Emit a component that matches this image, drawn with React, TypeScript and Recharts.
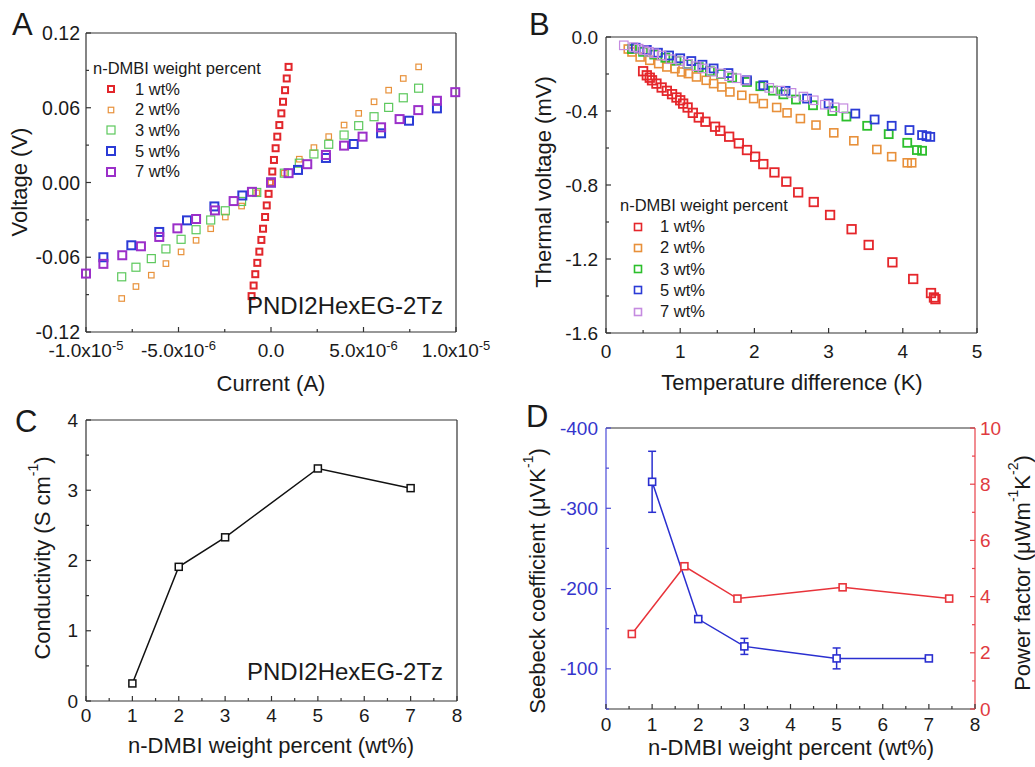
import React from 'react';
import { ScatterChart, Scatter, XAxis, YAxis, ReferenceLine, ErrorBar, Legend } from 'recharts';

const FONT = '"Liberation Sans", Arial, Helvetica, sans-serif';
const AXIS = '#333';
const TXT = '#1a1a1a';

// ---------------- Panel A : I-V curves (current in µA, voltage in V)
const ivNames = ['1 wt%', '2 wt%', '3 wt%', '5 wt%', '7 wt%'];
const ivI_1 = [-1.05, -0.94, -0.85, -0.74, -0.63, -0.52, -0.43, -0.32, -0.23, -0.13, -0.04, 0.07, 0.16, 0.25, 0.34, 0.45, 0.56, 0.65, 0.76, 0.85, 0.95];
const ivV_1 = [-0.0912, -0.0827, -0.0736, -0.0645, -0.0555, -0.0461, -0.0371, -0.0277, -0.0184, -0.0091, 0, 0.0088, 0.0181, 0.0275, 0.0368, 0.0461, 0.0555, 0.0648, 0.0741, 0.0835, 0.0928];
const ivI_2 = [-8.07, -7.3, -6.47, -5.68, -4.86, -4.05, -3.26, -2.47, -1.59, -0.77, 0, 0.72, 1.53, 2.32, 3.12, 3.95, 4.74, 5.57, 6.36, 7.15, 7.98];
const ivV_2 = [-0.0931, -0.0835, -0.0744, -0.0651, -0.0557, -0.0464, -0.0371, -0.0277, -0.0189, -0.0083, 0, 0.0075, 0.0187, 0.028, 0.0368, 0.0461, 0.0555, 0.0648, 0.0741, 0.0835, 0.0928];
const ivI_3 = [-8.07, -7.3, -6.47, -5.68, -4.86, -4.05, -3.26, -2.47, -1.59, -0.77, 0.72, 1.53, 2.32, 3.12, 3.95, 4.74, 5.57, 6.36, 7.15, 7.98];
const ivV_3 = [-0.0757, -0.068, -0.0611, -0.0533, -0.0456, -0.0379, -0.0301, -0.0227, -0.0152, -0.008, 0.0075, 0.0155, 0.0229, 0.0307, 0.0381, 0.0456, 0.0528, 0.0603, 0.068, 0.0757];
const ivI_5 = [-9.06, -7.55, -6.04, -4.54, -3.06, -1.55, 0, 1.46, 2.97, 4.47, 5.95, 7.46, 8.97];
const ivV_5 = [-0.06, -0.0504, -0.0397, -0.0304, -0.0192, -0.0104, 0, 0.0101, 0.0197, 0.0309, 0.0395, 0.0496, 0.0595];
const ivI_7 = [-10.0, -9.06, -8.04, -7.03, -6.04, -5.06, -4.05, -3.03, -2.02, -1.03, 0, 0.95, 1.96, 2.97, 3.95, 4.95, 5.95, 6.95, 7.96, 8.97, 9.96];
const ivV_7 = [-0.0731, -0.0653, -0.0584, -0.0512, -0.0437, -0.0368, -0.0293, -0.0224, -0.0149, -0.0075, 0, 0.0075, 0.0147, 0.0221, 0.0296, 0.0368, 0.0443, 0.0509, 0.0581, 0.0656, 0.0725];
const ivXTicks = [-1e-5, -7.5e-6, -5e-6, -2.5e-6, 0, 2.5e-6, 5e-6, 7.5e-6, 1e-5];
const ivYTicks = [-0.12, -0.09, -0.06, -0.03, 0, 0.03, 0.06, 0.09, 0.12];

// ---------------- Panel B : thermal voltage (ΔT in K, V in mV)
const tvT_1 = [0.5, 0.55, 0.59, 0.62, 0.68, 0.75, 0.82, 0.89, 0.95, 1.0, 1.04, 1.1, 1.17, 1.25, 1.34, 1.47, 1.54, 1.66, 1.79, 1.9, 2.01, 2.12, 2.27, 2.43, 2.59, 2.8, 3.02, 3.31, 3.54, 3.86, 4.14, 4.38, 4.42, 4.44];
const tvV_1 = [-0.185, -0.207, -0.22, -0.234, -0.252, -0.273, -0.291, -0.309, -0.327, -0.342, -0.36, -0.381, -0.41, -0.435, -0.458, -0.485, -0.507, -0.539, -0.575, -0.611, -0.647, -0.687, -0.732, -0.782, -0.84, -0.892, -0.962, -1.039, -1.124, -1.218, -1.308, -1.384, -1.408, -1.417];
const tvT_2 = [0.3, 0.35, 0.46, 0.59, 0.71, 0.82, 0.93, 1.02, 1.11, 1.22, 1.35, 1.45, 1.56, 1.67, 1.83, 1.99, 2.12, 2.3, 2.44, 2.62, 2.83, 3.07, 3.34, 3.65, 3.85, 4.06, 4.12];
const tvV_2 = [-0.065, -0.081, -0.108, -0.126, -0.144, -0.162, -0.171, -0.189, -0.198, -0.216, -0.234, -0.252, -0.27, -0.297, -0.315, -0.333, -0.36, -0.381, -0.41, -0.441, -0.476, -0.518, -0.561, -0.608, -0.647, -0.68, -0.68];
const tvT_3 = [0.35, 0.5, 0.65, 0.8, 0.95, 1.1, 1.25, 1.4, 1.55, 1.7, 1.9, 2.08, 2.25, 2.39, 2.56, 2.79, 3.05, 3.24, 3.52, 3.81, 4.06, 4.19, 4.26];
const tvV_3 = [-0.065, -0.08, -0.095, -0.112, -0.128, -0.146, -0.163, -0.185, -0.2, -0.22, -0.243, -0.266, -0.29, -0.31, -0.338, -0.369, -0.4, -0.43, -0.48, -0.525, -0.572, -0.611, -0.615];
const tvT_5 = [0.4, 0.55, 0.7, 0.85, 1.0, 1.15, 1.3, 1.45, 1.65, 1.9, 2.12, 2.42, 2.71, 3.0, 3.36, 3.62, 3.85, 4.09, 4.26, 4.32, 4.37];
const tvV_5 = [-0.058, -0.07, -0.085, -0.1, -0.115, -0.13, -0.15, -0.17, -0.195, -0.234, -0.261, -0.291, -0.333, -0.36, -0.414, -0.446, -0.48, -0.503, -0.53, -0.536, -0.54];
const tvT_7 = [0.24, 0.37, 0.44, 0.51, 0.58, 0.65, 0.75, 0.87, 1.0, 1.1, 1.22, 1.3, 1.42, 1.55, 1.66, 1.76, 1.88, 2.2, 2.35, 2.5, 2.66, 2.8, 2.95, 3.08, 3.2];
const tvV_7 = [-0.045, -0.055, -0.063, -0.072, -0.08, -0.088, -0.1, -0.12, -0.13, -0.145, -0.158, -0.17, -0.187, -0.197, -0.212, -0.223, -0.235, -0.275, -0.29, -0.302, -0.322, -0.342, -0.366, -0.38, -0.385];
const tvXTicks = [0, 0.5, 1, 1.5, 2, 2.5, 3, 3.5, 4, 4.5, 5];
const tvYTicks = [-1.6, -1.4, -1.2, -1.0, -0.8, -0.6, -0.4, -0.2, 0];

// ---------------- Panel C : conductivity
const condWt = [1, 2, 3, 5, 7];
const condVal = [0.25, 1.91, 2.33, 3.31, 3.03];
const wtTicks = [0, 0.5, 1, 1.5, 2, 2.5, 3, 3.5, 4, 4.5, 5, 5.5, 6, 6.5, 7, 7.5, 8];
const condTicks = [0, 0.5, 1, 1.5, 2, 2.5, 3, 3.5, 4];

// ---------------- Panel D : Seebeck & power factor
const sbWt = [1, 2, 3, 5, 7];
const sbVal = [-333, -162, -128, -113, -113];
const sbErr = [38, 2, 10, 13, 2];
const pfWt = [0.56, 1.7, 2.85, 5.13, 7.44];
const pfVal = [2.67, 5.08, 3.93, 4.33, 3.93];
const sbTicks = [-400, -350, -300, -250, -200, -150, -100, -50];
const pfTicks = [0, 1, 2, 3, 4, 5, 6, 7, 8, 9, 10];

const pts = (xs: number[], ys: number[], k = 1) => xs.map((x, i) => ({ x: x * k, y: ys[i] }));

const ivData = [pts(ivI_1, ivV_1, 1e-6), pts(ivI_2, ivV_2, 1e-6), pts(ivI_3, ivV_3, 1e-6), pts(ivI_5, ivV_5, 1e-6), pts(ivI_7, ivV_7, 1e-6)];
const tvData = [pts(tvT_1, tvV_1), pts(tvT_2, tvV_2), pts(tvT_3, tvV_3), pts(tvT_5, tvV_5), pts(tvT_7, tvV_7)];
const condData = pts(condWt, condVal);
const sbData = sbWt.map((x, i) => ({ x, y: sbVal[i], err: sbErr[i] }));
const pfData = pts(pfWt, pfVal);

// styles
const ivStyle = [
  { color: '#e2262b', size: 6, sw: 2 },
  { color: '#e8923c', size: 5.5, sw: 1.2 },
  { color: '#5cc85c', size: 8, sw: 1.2 },
  { color: '#2b3bd6', size: 8, sw: 2 },
  { color: '#9b2fc9', size: 8, sw: 2 },
];
const tvStyle = [
  { color: '#e5262b', size: 8.5, sw: 1.8 },
  { color: '#e8903a', size: 8, sw: 1.6 },
  { color: '#2cbf2c', size: 8, sw: 1.8 },
  { color: '#2b3bd6', size: 8, sw: 1.8 },
  { color: '#c58be0', size: 8.5, sw: 1.2 },
];
const SB_BLUE = '#2a2fd0';
const PF_RED = '#e8333a';

const square = (color: string, size: number, sw: number, fill = 'none') => (props: any) => {
  const { cx, cy } = props;
  if (cx == null || cy == null) return <g />;
  return <rect x={cx - size / 2} y={cy - size / 2} width={size} height={size} fill={fill} stroke={color} strokeWidth={sw} />;
};

type Side = 'left' | 'bottom' | 'right';
const makeTick = (side: Side, step: number, fmt: (v: number) => React.ReactNode, opt: { gap: number; color?: string; lineColor?: string; fs?: number }) => (props: any) => {
  const { x, y, payload } = props;
  const v = payload.value as number;
  const major = Math.abs(v / step - Math.round(v / step)) < 1e-6;
  const L = major ? 5 : 3;
  const lc = opt.lineColor || AXIS;
  const tc = opt.color || TXT;
  const fs = opt.fs || 19;
  if (side === 'bottom') {
    return (
      <g>
        <line x1={x} y1={y} x2={x} y2={y - L} stroke={lc} strokeWidth={1.2} />
        {major && (
          <text x={x} y={y + opt.gap} textAnchor="middle" fontSize={fs} fill={tc} fontFamily={FONT}>
            {fmt(v)}
          </text>
        )}
      </g>
    );
  }
  if (side === 'left') {
    return (
      <g>
        <line x1={x} y1={y} x2={x + L} y2={y} stroke={lc} strokeWidth={1.2} />
        {major && (
          <text x={x - opt.gap} y={y} textAnchor="end" dominantBaseline="central" fontSize={fs} fill={tc} fontFamily={FONT}>
            {fmt(v)}
          </text>
        )}
      </g>
    );
  }
  return (
    <g>
      <line x1={x} y1={y} x2={x - L} y2={y} stroke={lc} strokeWidth={1.2} />
      {major && (
        <text x={x + opt.gap} y={y} textAnchor="start" dominantBaseline="central" fontSize={fs} fill={tc} fontFamily={FONT}>
          {fmt(v)}
        </text>
      )}
    </g>
  );
};

const sciFmt = (v: number) => {
  if (v === 0) return '0.0';
  const e = Math.floor(Math.log10(Math.abs(v)) + 1e-9);
  const m = (v / Math.pow(10, e)).toFixed(1);
  return (
    <>
      <tspan>{m}x10</tspan>
      <tspan dy={-7} fontSize={13}>{e}</tspan>
    </>
  );
};

const LegendBox = ({ title, styles, rowH, iconX, textX }: any) => (
  <div style={{ fontFamily: FONT, fontSize: 16.5, color: TXT, lineHeight: `${rowH}px`, whiteSpace: 'nowrap' }}>
    <div style={{ height: rowH }}>{title}</div>
    {ivNames.map((n, i) => (
      <div key={n} style={{ position: 'relative', height: rowH, width: 120 }}>
        <svg style={{ position: 'absolute', left: iconX - 6, top: rowH / 2 - 6 }} width={12} height={12}>
          <rect x={6 - styles[i].size / 2} y={6 - styles[i].size / 2} width={styles[i].size} height={styles[i].size} fill="none" stroke={styles[i].color} strokeWidth={styles[i].sw} />
        </svg>
        <span style={{ position: 'absolute', left: textX }}>{n}</span>
      </div>
    ))}
  </div>
);

const txt = { fontFamily: FONT, fill: TXT } as const;

export default function App() {
  return (
    <div style={{ position: 'absolute', left: 0, top: 0, width: 1035, height: 767, background: '#fff', overflow: 'hidden' }}>
      {/* Panel A */}
      <div style={{ position: 'absolute', left: 0, top: 0 }}>
        <ScatterChart width={515} height={400} margin={{ top: 33, right: 59, bottom: 28, left: 16 }}>
          <XAxis type="number" dataKey="x" domain={[-1e-5, 1e-5]} ticks={ivXTicks} interval={0} tickSize={0} tickMargin={0} tickLine={false} height={40} stroke={AXIS} strokeWidth={1.2} tick={makeTick('bottom', 5e-6, sciFmt, { gap: 25 })} />
          <YAxis type="number" dataKey="y" domain={[-0.12, 0.12]} ticks={ivYTicks} interval={0} tickSize={0} tickMargin={0} tickLine={false} width={70} stroke={AXIS} strokeWidth={1.2} tick={makeTick('left', 0.06, (v) => v.toFixed(2), { gap: 6, fs: 19.5 })} />
          <ReferenceLine y={0.12} stroke={AXIS} strokeWidth={1.2} />
          <ReferenceLine x={1e-5} stroke={AXIS} strokeWidth={1.2} />
          {ivData.map((d, i) => (
            <Scatter key={ivNames[i]} name={ivNames[i]} data={d} fill={ivStyle[i].color} shape={square(ivStyle[i].color, ivStyle[i].size, ivStyle[i].sw)} isAnimationActive={false} />
          ))}
          <Legend layout="vertical" align="center" verticalAlign="middle" wrapperStyle={{ left: 93, top: 58 }} content={() => <LegendBox title="n-DMBI weight percent" styles={ivStyle} rowH={20.7} iconX={18} textX={42} />} />
        </ScatterChart>
      </div>

      {/* Panel B */}
      <div style={{ position: 'absolute', left: 520, top: 0 }}>
        <ScatterChart width={515} height={400} margin={{ top: 37, right: 58, bottom: 27, left: 16 }}>
          <XAxis type="number" dataKey="x" domain={[0, 5]} ticks={tvXTicks} interval={0} tickSize={0} tickMargin={0} tickLine={false} height={40} stroke={AXIS} strokeWidth={1.2} tick={makeTick('bottom', 1, (v) => String(v), { gap: 25 })} />
          <YAxis type="number" dataKey="y" domain={[-1.6, 0]} ticks={tvYTicks} interval={0} tickSize={0} tickMargin={0} tickLine={false} width={70} stroke={AXIS} strokeWidth={1.2} tick={makeTick('left', 0.4, (v) => v.toFixed(1), { gap: 8 })} />
          <ReferenceLine y={0} stroke={AXIS} strokeWidth={1.2} />
          <ReferenceLine x={5} stroke={AXIS} strokeWidth={1.2} />
          {tvData.map((d, i) => (
            <Scatter key={ivNames[i]} name={ivNames[i]} data={d} fill={tvStyle[i].color} shape={square(tvStyle[i].color, tvStyle[i].size, tvStyle[i].sw)} isAnimationActive={false} />
          ))}
          <Legend layout="vertical" align="center" verticalAlign="middle" wrapperStyle={{ left: 100, top: 195 }} content={() => <LegendBox title="n-DMBI weight percent" styles={tvStyle.map((s) => ({ ...s, size: 7, sw: 1.6 }))} rowH={21.2} iconX={18} textX={40} />} />
        </ScatterChart>
      </div>

      {/* Panel C */}
      <div style={{ position: 'absolute', left: 0, top: 390 }}>
        <ScatterChart width={480} height={377} margin={{ top: 30, right: 23, bottom: 26, left: 16 }}>
          <XAxis type="number" dataKey="x" domain={[0, 8]} ticks={wtTicks} interval={0} tickSize={0} tickMargin={0} tickLine={false} height={40} stroke={AXIS} strokeWidth={1.2} tick={makeTick('bottom', 1, (v) => String(v), { gap: 21 })} />
          <YAxis type="number" dataKey="y" domain={[0, 4]} ticks={condTicks} interval={0} tickSize={0} tickMargin={0} tickLine={false} width={70} stroke={AXIS} strokeWidth={1.2} tick={makeTick('left', 1, (v) => String(v), { gap: 8 })} />
          <ReferenceLine y={4} stroke={AXIS} strokeWidth={1.2} />
          <ReferenceLine x={8} stroke={AXIS} strokeWidth={1.2} />
          <Scatter name="Conductivity" data={condData} fill="#111" line={{ stroke: '#111', strokeWidth: 1.5 }} lineType="joint" shape={square('#111', 7, 1.5, '#fff')} isAnimationActive={false} />
        </ScatterChart>
      </div>

      {/* Panel D */}
      <div style={{ position: 'absolute', left: 520, top: 390 }}>
        <ScatterChart width={515} height={377} margin={{ top: 38, right: 10, bottom: 18, left: 16 }}>
          <XAxis type="number" dataKey="x" domain={[0, 8]} ticks={wtTicks} interval={0} tickSize={0} tickMargin={0} tickLine={false} height={40} stroke={AXIS} strokeWidth={1.2} tick={makeTick('bottom', 1, (v) => String(v), { gap: 22 })} />
          <YAxis yAxisId="s" type="number" dataKey="y" domain={[-400, -50]} reversed ticks={sbTicks} interval={0} tickSize={0} tickMargin={0} tickLine={false} width={70} stroke="#4a4ad8" strokeWidth={1.2} tick={makeTick('left', 100, (v) => String(v), { gap: 8, color: '#3434cc', lineColor: '#4a4ad8' })} />
          <YAxis yAxisId="p" orientation="right" type="number" dataKey="y" domain={[0, 10]} ticks={pfTicks} interval={0} tickSize={0} tickMargin={0} tickLine={false} width={50} stroke="#e84048" strokeWidth={1.2} tick={makeTick('right', 2, (v) => String(v), { gap: 5, color: '#e03a40', lineColor: '#e84048' })} />
          <ReferenceLine yAxisId="s" y={-400} stroke={AXIS} strokeWidth={1.2} />
          <Scatter yAxisId="s" name="Seebeck" data={sbData} fill={SB_BLUE} line={{ stroke: SB_BLUE, strokeWidth: 1.5 }} lineType="joint" shape={square(SB_BLUE, 7, 1.6, '#fff')} isAnimationActive={false}>
            <ErrorBar dataKey="err" direction="y" width={4} stroke={SB_BLUE} strokeWidth={1.5} />
          </Scatter>
          <Scatter yAxisId="p" name="Power factor" data={pfData} fill={PF_RED} line={{ stroke: PF_RED, strokeWidth: 1.5 }} lineType="joint" shape={square(PF_RED, 7, 1.6, '#fff')} isAnimationActive={false} />
        </ScatterChart>
      </div>

      {/* Text overlay: panel letters, axis titles, annotations */}
      <svg width={1035} height={767} style={{ position: 'absolute', left: 0, top: 0, pointerEvents: 'none' }}>
        <text x={12} y={35} fontSize={31} {...txt}>A</text>
        <text x={529} y={35} fontSize={31} {...txt}>B</text>
        <text x={15} y={432} fontSize={31} {...txt}>C</text>
        <text x={526} y={427} fontSize={31} {...txt}>D</text>

        <text x={247} y={314} fontSize={24} {...txt}>PNDI2HexEG-2Tz</text>
        <text x={247} y={680} fontSize={24} {...txt}>PNDI2HexEG-2Tz</text>

        <text x={19} y={182} fontSize={22} textAnchor="middle" dominantBaseline="central" transform="rotate(-90 19 182)" {...txt}>Voltage (V)</text>
        <text x={271} y={391} fontSize={22} textAnchor="middle" {...txt}>Current (A)</text>

        <text x={543} y={182} fontSize={22} textAnchor="middle" dominantBaseline="central" transform="rotate(-90 543 182)" {...txt}>Thermal voltage (mV)</text>
        <text x={792} y={390} fontSize={22} textAnchor="middle" {...txt}>Temperature difference (K)</text>

        <text x={42} y={558} fontSize={22} textAnchor="middle" dominantBaseline="central" transform="rotate(-90 42 558)" {...txt}>
          Conductivity (S cm<tspan dy={-9} fontSize={14}>-1</tspan><tspan dy={9}>)</tspan>
        </text>
        <text x={271} y={753} fontSize={22} textAnchor="middle" {...txt}>n-DMBI weight percent (wt%)</text>

        <text x={537} y={581} fontSize={22} textAnchor="middle" dominantBaseline="central" transform="rotate(-90 537 581)" {...txt}>
          Seebeck coefficient (μVK<tspan dy={-9} fontSize={14}>-1</tspan><tspan dy={9}>)</tspan>
        </text>
        <text x={1022} y={573} fontSize={22} textAnchor="middle" dominantBaseline="central" transform="rotate(-90 1022 573)" {...txt}>
          Power factor (μWm<tspan dy={-9} fontSize={14}>-1</tspan><tspan dy={9}>K</tspan><tspan dy={-9} fontSize={14}>-2</tspan><tspan dy={9}>)</tspan>
        </text>
        <text x={791} y={755} fontSize={22} textAnchor="middle" {...txt}>n-DMBI weight percent (wt%)</text>
      </svg>
    </div>
  );
}
